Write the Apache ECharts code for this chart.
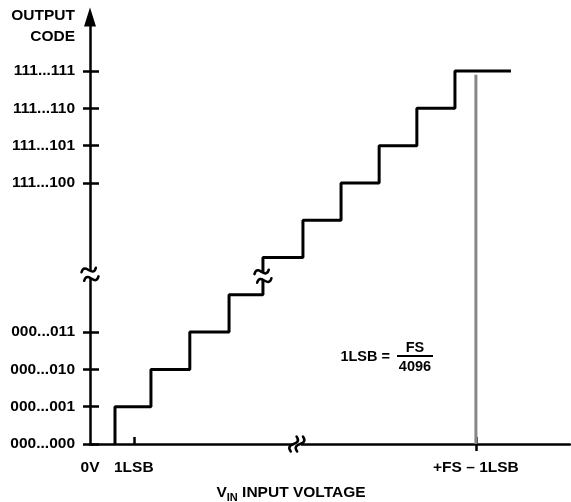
<!DOCTYPE html>
<html>
<head>
<meta charset="utf-8">
<script src="https://cdn.jsdelivr.net/npm/echarts@6/dist/echarts.min.js"></script>
<style>html,body{margin:0;padding:0;background:#fff}#c{width:571px;height:502px}</style>
</head>
<body>
<div id="c"></div>
<script>
// Transition points of the staircase (input, in step units) and the output levels
var transitions = [0.656, 1.60, 2.62, 3.65, 4.54, 5.59, 6.59, 7.59, 8.58, 9.58];
var stairEnd = 11.05;
// Y tick levels and their codes
var yTickLevels = [0, 1, 2, 3, 7, 8, 9, 10];
var yTickCodes = ['000...000', '000...001', '000...010', '000...011', '111...100', '111...101', '111...110', '111...111'];
// X tick positions and labels
var xTickValues = [0, 1.15, 10.13];
var xTickLabels = ['0V', '1LSB', '+FS \u2013 1LSB'];
var fsLineX = 10.13, fsLineTop = 9.9;
// Break marks: [x, y, kind]
var breaks = [[0, 4.55, 'v'], [4.54, 4.5, 'v'], [5.43, 0, 'h']];

var FONT = '"Liberation Sans", Arial, sans-serif';

var stairPts = [];
for (var i = 0; i < transitions.length; i++) {
  stairPts.push([transitions[i], i]);
  stairPts.push([transitions[i], i + 1]);
}
stairPts.push([stairEnd, transitions.length]);

var chart = echarts.init(document.getElementById('c'));
var tildePath = 'M -7.5 0 C -4 -5.5 -1 -1 0 0 C 1 1 4 5.5 7.5 0';

chart.setOption({
  animation: false,
  grid: {left: 90, top: 17, width: 480, height: 427},
  xAxis: [{
    type: 'value', min: 0, max: 12.6, position: 'bottom',
    splitLine: {show: false},
    axisLine: {show: true, onZero: false, lineStyle: {color: '#000', width: 2.5}},
    axisTick: {show: true, inside: true, length: 7, customValues: [xTickValues[1], xTickValues[2]], lineStyle: {color: '#000', width: 2.5}},
    axisLabel: {customValues: xTickValues, margin: 16, fontFamily: FONT, fontWeight: 'bold', fontSize: 15.5, color: '#000',
      formatter: function (v) { var k = xTickValues.indexOf(v); return k >= 0 ? xTickLabels[k] : ''; }}
  }, {
    type: 'value', min: 0, max: 12.6, position: 'bottom',
    splitLine: {show: false},
    axisLine: {show: false},
    axisTick: {show: true, inside: false, length: 7, customValues: [xTickValues[2]], lineStyle: {color: '#000', width: 2.5}},
    axisLabel: {show: false}
  }],
  yAxis: [{
    type: 'value', min: 0, max: 11.45, position: 'left',
    splitLine: {show: false},
    axisLine: {show: true, onZero: false, symbol: ['none', 'triangle'], symbolSize: [12, 19], lineStyle: {color: '#000', width: 2.5}},
    axisTick: {show: true, inside: false, length: 7, customValues: yTickLevels, lineStyle: {color: '#000', width: 2.5}},
    axisLabel: {customValues: yTickLevels, margin: 15, fontFamily: FONT, fontWeight: 'bold', fontSize: 15.5, color: '#000',
      formatter: function (v) { var k = yTickLevels.indexOf(v); return k >= 0 ? yTickCodes[k] : ''; }}
  }, {
    type: 'value', min: 0, max: 11.45, position: 'left',
    splitLine: {show: false},
    axisLine: {show: false},
    axisTick: {show: true, inside: true, length: 9, customValues: yTickLevels, lineStyle: {color: '#000', width: 2.5}},
    axisLabel: {show: false}
  }],
  series: [{
    type: 'line', name: 'fs', data: [[fsLineX, 0], [fsLineX, fsLineTop]],
    showSymbol: false, symbol: 'none', lineStyle: {color: '#878787', width: 3}, z: 2, silent: true
  }, {
    type: 'line', name: 'stairs', data: stairPts,
    showSymbol: false, symbol: 'none', lineStyle: {color: '#000', width: 3}, z: 3, silent: true
  }, {
    type: 'custom', name: 'breaks', data: breaks, z: 5, clip: false, silent: true,
    renderItem: function (params, api) {
      var p = api.coord([api.value(0), api.value(1)]);
      var kind = breaks[params.dataIndex][2];
      var st = {stroke: '#000', lineWidth: 2.5, fill: null, lineCap: 'round'};
      if (kind === 'v') {
        return {type: 'group', x: p[0], y: p[1], children: [
          {type: 'rect', shape: {x: -3, y: -3.5, width: 6, height: 7}, style: {fill: '#fff'}},
          {type: 'path', shape: {pathData: tildePath, layout: 'center', x: -7.5, y: -7.5, width: 15, height: 6}, rotation: 0.3, style: st},
          {type: 'path', shape: {pathData: tildePath, layout: 'center', x: -7.5, y: 1.5, width: 15, height: 6}, rotation: 0.3, style: st}
        ]};
      }
      return {type: 'group', x: p[0], y: p[1], children: [
        {type: 'rect', shape: {x: -4, y: -3, width: 8, height: 6}, style: {fill: '#fff'}},
        {type: 'path', shape: {pathData: tildePath, layout: 'center', x: -8, y: -3, width: 16, height: 6}, x: -3.2, rotation: 1.2, style: st},
        {type: 'path', shape: {pathData: tildePath, layout: 'center', x: -8, y: -3, width: 16, height: 6}, x: 3.2, rotation: 1.2, style: st}
      ]};
    }
  }],
  graphic: [
    {type: 'text', x: 75, y: 16, style: {text: 'OUTPUT', align: 'right', verticalAlign: 'middle', font: 'bold 15.5px ' + FONT, fill: '#000'}},
    {type: 'text', x: 75, y: 36.5, style: {text: 'CODE', align: 'right', verticalAlign: 'middle', font: 'bold 15.5px ' + FONT, fill: '#000'}},
    {type: 'text', x: 291, y: 493, style: {
      text: '{v|V}{s|IN}{v| INPUT VOLTAGE}', align: 'center', verticalAlign: 'middle',
      rich: {v: {font: 'bold 15.5px ' + FONT, fill: '#000', verticalAlign: 'middle'},
             s: {font: 'bold 11px ' + FONT, fill: '#000', padding: [9, 0, 0, 0], verticalAlign: 'bottom'}}
    }},
    {type: 'text', x: 390, y: 356.5, style: {text: '1LSB =', align: 'right', verticalAlign: 'middle', font: 'bold 14.5px ' + FONT, fill: '#000'}},
    {type: 'text', x: 415, y: 348, style: {text: 'FS', align: 'center', verticalAlign: 'middle', font: 'bold 14.5px ' + FONT, fill: '#000'}},
    {type: 'line', shape: {x1: 397, y1: 356, x2: 433, y2: 356}, style: {stroke: '#000', lineWidth: 2}},
    {type: 'text', x: 415, y: 367, style: {text: '4096', align: 'center', verticalAlign: 'middle', font: 'bold 14.5px ' + FONT, fill: '#000'}}
  ]
});
</script>
</body>
</html>
